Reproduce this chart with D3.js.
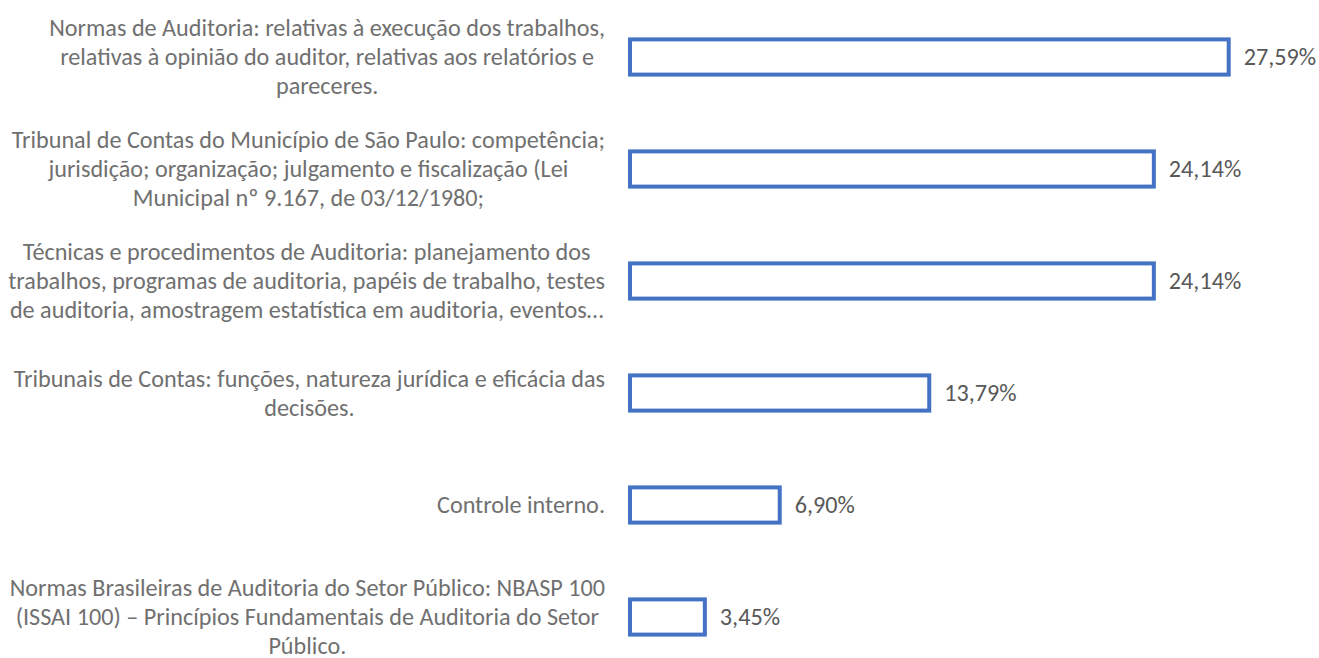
<!DOCTYPE html>
<html>
<head>
<meta charset="utf-8">
<script src="https://cdn.jsdelivr.net/npm/d3@7"></script>
<style>
  body { margin: 0; background: #fff; }
  svg { display: block; }
  text { font-family: Calibri, Carlito, "Open Sans", sans-serif; }
</style>
</head>
<body>
<script>
// chart data (top to bottom)
const categoryLines = [
    ["Normas de Auditoria: relativas à execução dos trabalhos,",
     "relativas à opinião do auditor, relativas aos relatórios e",
     "pareceres."],
    ["Tribunal de Contas do Município de São Paulo: competência;",
     "jurisdição; organização; julgamento e fiscalização (Lei",
     "Municipal nº 9.167, de 03/12/1980;"],
    ["Técnicas e procedimentos de Auditoria: planejamento dos",
     "trabalhos, programas de auditoria, papéis de trabalho, testes",
     "de auditoria, amostragem estatística em auditoria, eventos…"],
    ["Tribunais de Contas: funções, natureza jurídica e eficácia das",
     "decisões."],
    ["Controle interno."],
    ["Normas Brasileiras de Auditoria do Setor Público: NBASP 100",
     "(ISSAI 100) – Princípios Fundamentais de Auditoria do Setor",
     "Público."]
];
const values = [27.59, 24.14, 24.14, 13.79, 6.90, 3.45];
const axisMax = 30;

const width = 1319, height = 658;
const labelRight = 605;
const lineHeight = 29;

const svg = d3.select("body").append("svg")
    .attr("width", width)
    .attr("height", height);

const ids = d3.range(values.length);

const x = d3.scaleLinear().domain([0, axisMax]).range([630, 1281]);
const y = d3.scaleBand().domain(ids).range([1, 673])
    .paddingInner(0.65).paddingOuter(0.325);

const ptBR = d3.formatLocale({decimal: ",", thousands: ".", grouping: [3], currency: ["R$", ""]});
const fmt = ptBR.format(".2f");

// bars
svg.append("g").selectAll("rect")
    .data(ids)
    .join("rect")
    .attr("x", x(0))
    .attr("y", i => y(i) + 2)
    .attr("width", i => x(values[i]) - x(0))
    .attr("height", y.bandwidth() - 4)
    .attr("fill", "#fff")
    .attr("stroke", "#4472C4")
    .attr("stroke-width", 4);

// value labels
const valueLabels = svg.append("g").selectAll("text")
    .data(ids)
    .join("text")
    .attr("x", i => x(values[i]) + 15)
    .attr("y", i => y(i) + y.bandwidth() / 2)
    .attr("dy", "0.35em")
    .attr("font-size", 21)
    .attr("fill", "#595959")
    .text(i => fmt(values[i]) + "%");

// category labels: lines centred in a block, block right-aligned
const labels = svg.append("g").selectAll("g")
    .data(ids)
    .join("g")
    .attr("transform", i => `translate(${labelRight},${y(i) + y.bandwidth() / 2})`);

labels.each(function(i) {
    const g = d3.select(this);
    const lines = categoryLines[i];
    lines.forEach((t, k) => {
        g.append("text")
            .attr("y", (k - (lines.length - 1) / 2) * lineHeight)
            .attr("dy", "0.35em")
            .attr("font-size", 21)
            .attr("fill", "#707070")
            .attr("text-anchor", "middle")
            .text(t);
    });
});

// size the font so the widest line fills the label column (597px)
let widest = 0;
labels.selectAll("text").each(function() {
    widest = Math.max(widest, this.getComputedTextLength());
});
const fs = 21 * 597 / widest;
svg.selectAll("text").attr("font-size", fs);

labels.each(function() {
    const g = d3.select(this);
    let w = 0;
    g.selectAll("text").each(function() { w = Math.max(w, this.getComputedTextLength()); });
    g.selectAll("text").attr("x", -w / 2);
});
</script>
</body>
</html>
